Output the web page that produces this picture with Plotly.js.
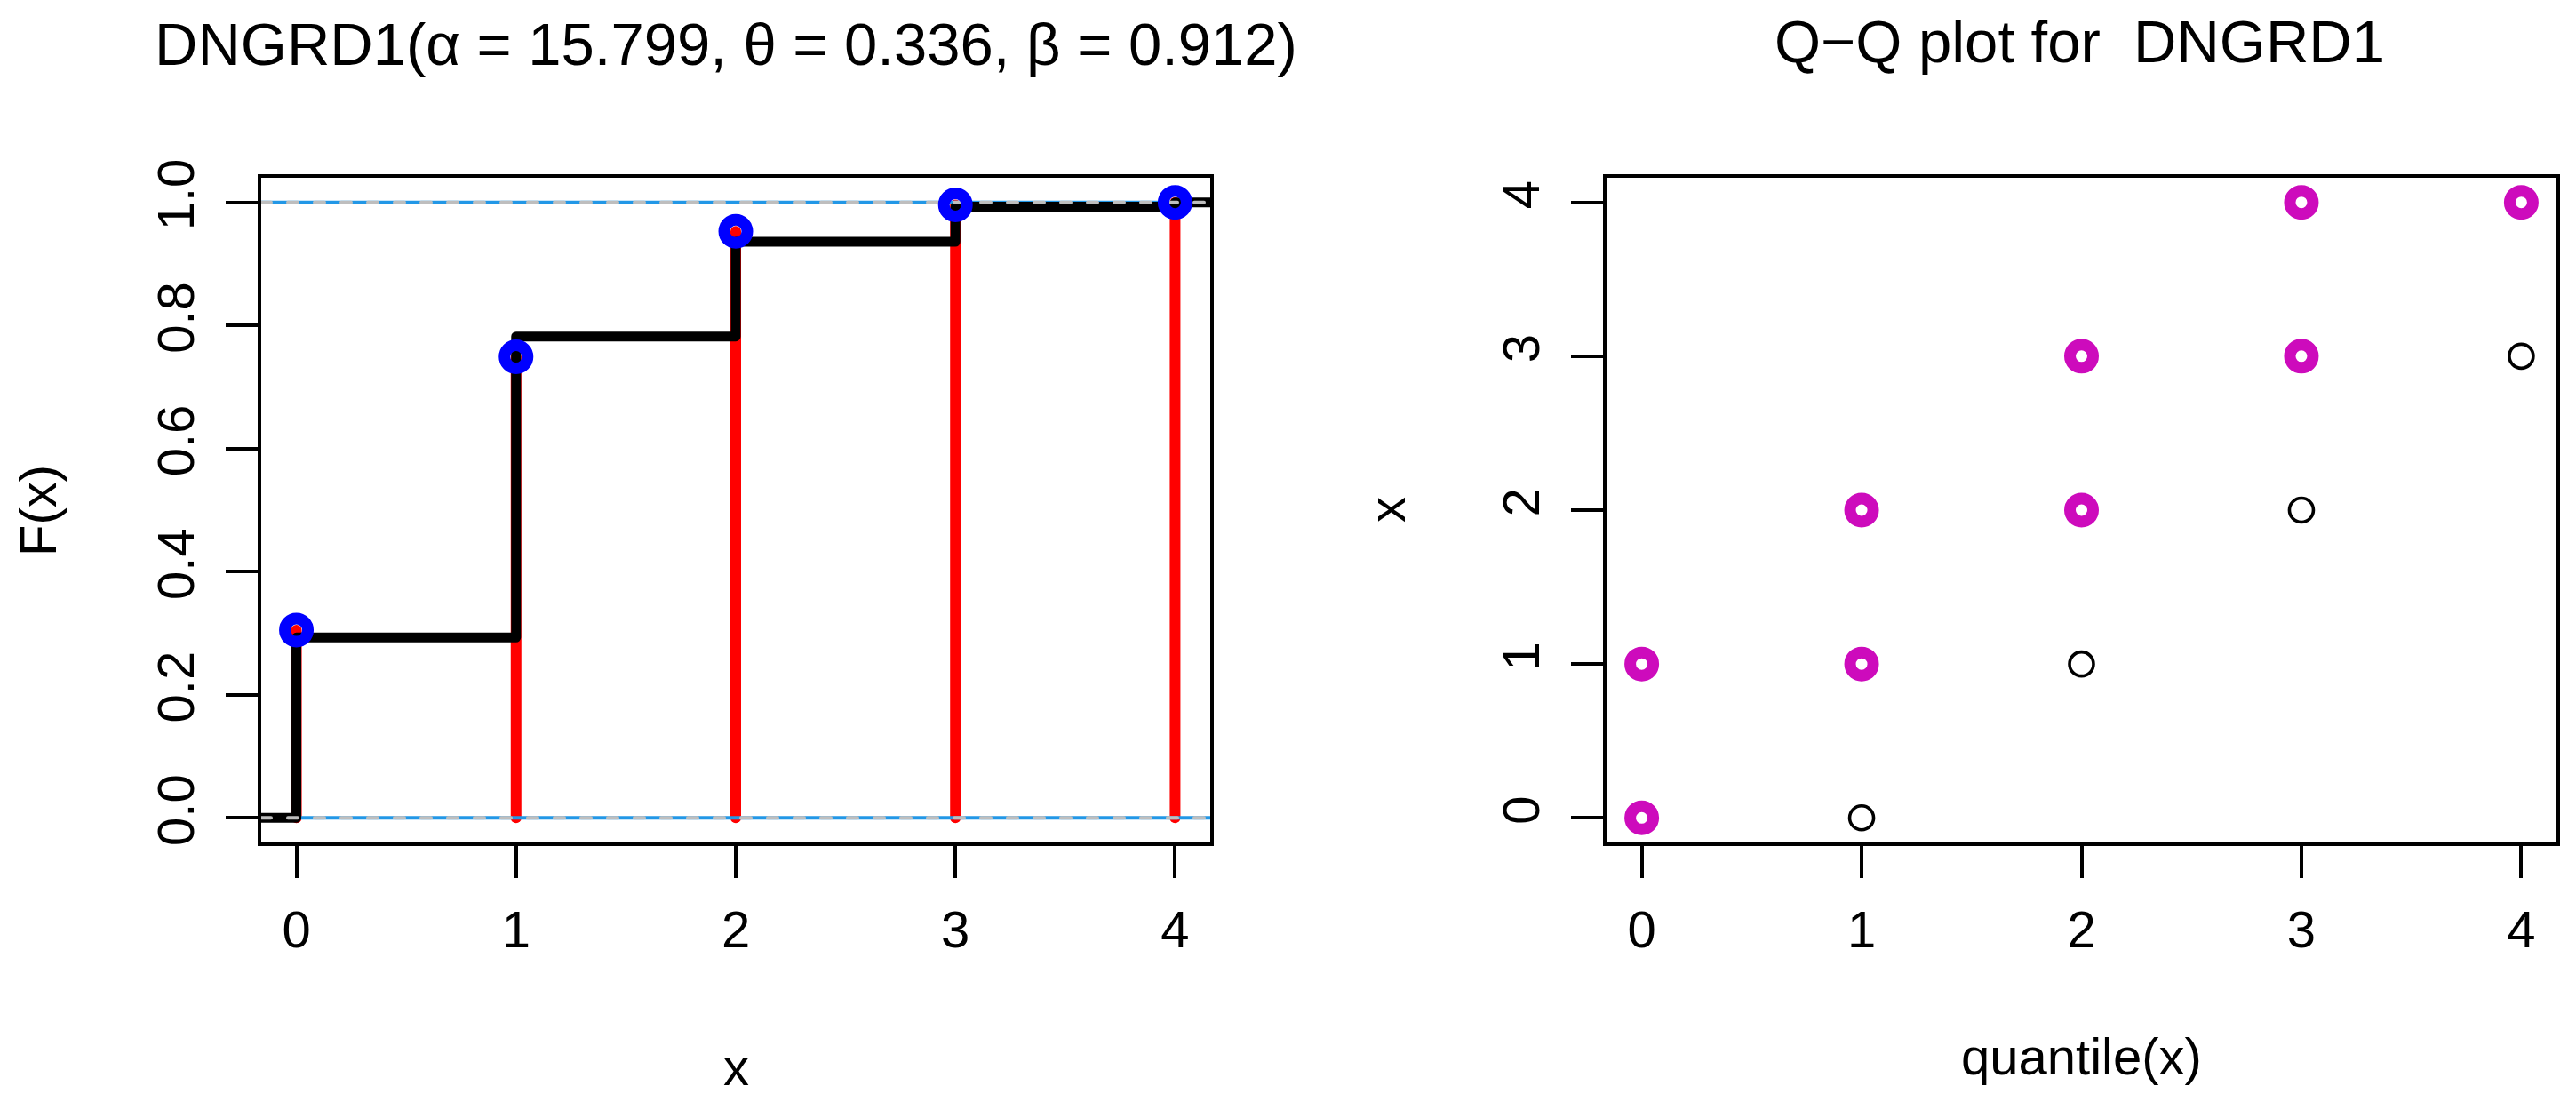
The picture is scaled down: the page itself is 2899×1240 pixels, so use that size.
<!DOCTYPE html>
<html>
<head>
<meta charset="utf-8">
<script src="https://cdn.plot.ly/plotly-3.0.1.min.js"></script>
<style>
  html, body { margin: 0; padding: 0; background: #ffffff; }
  #chart { width: 2899px; height: 1240px; }
  .js-line { stroke-linecap: round !important; stroke-linejoin: round !important; }
</style>
</head>
<body>
<div id="chart"></div>
<script>
// ---- data ----
const xSupport    = [0, 1, 2, 3, 4];
const ecdfValues  = [0.293, 0.782, 0.936, 0.993, 1.000];   // empirical CDF (black step)
const cdfValues   = [0.305, 0.749, 0.953, 0.996, 1.000];   // fitted CDF (red lines, blue circles)
const refLevels   = [0, 1];                                 // horizontal reference lines

const qqQuantileBlack = [1, 2, 3, 4];
const qqSampleBlack   = [0, 1, 2, 3];
const qqQuantileMag   = [0, 0, 1, 1, 2, 2, 3, 3, 4];
const qqSampleMag     = [0, 1, 1, 2, 2, 3, 3, 4, 4];

const xTickVals   = [0, 1, 2, 3, 4];
const yTickValsL  = [0, 0.2, 0.4, 0.6, 0.8, 1.0];
const yTickTextL  = ["0.0", "0.2", "0.4", "0.6", "0.8", "1.0"];
const yTickValsR  = [0, 1, 2, 3, 4];

const titleLeft   = "DNGRD1(α = 15.799, θ = 0.336, β = 0.912)";
const titleRight  = "Q−Q plot for  DNGRD1";
const xLabelLeft  = "x";
const yLabelLeft  = "F(x)";
const xLabelRight = "quantile(x)";
const yLabelRight = "x";

// ---- layout constants ----
const W = 2899, H = 1240;
const FONT = "Liberation Sans, Arial, Helvetica, sans-serif";
const xRangeL = [-0.16, 4.16], yRangeL = [-0.04, 1.04];
const xRangeR = [-0.16, 4.16], yRangeR = [-0.16, 4.16];
const px = v => v / W;
const py = v => 1 - v / H;

// ---- traces ----
const traces = [];

// red vertical lines 0 -> F(x)
const redX = [], redY = [];
xSupport.forEach((x, i) => { redX.push(x, x, null); redY.push(0, cdfValues[i], null); });
traces.push({ type: 'scatter', mode: 'lines', x: redX, y: redY, xaxis: 'x', yaxis: 'y',
  line: { color: '#FF0000', width: 12 }, hoverinfo: 'skip', showlegend: false });

// blue solid reference lines
refLevels.forEach(h => traces.push({ type: 'scatter', mode: 'lines',
  x: [xRangeL[0] - 1, xRangeL[1] + 1], y: [h, h], xaxis: 'x', yaxis: 'y',
  line: { color: '#2297E6', width: 4 }, hoverinfo: 'skip', showlegend: false }));

// ecdf step
const stepX = [xRangeL[0] - 1].concat(xSupport, [xRangeL[1] + 1]);
const stepY = [0].concat(ecdfValues, [ecdfValues[ecdfValues.length - 1]]);
traces.push({ type: 'scatter', mode: 'lines', x: stepX, y: stepY, xaxis: 'x', yaxis: 'y',
  line: { color: '#000000', width: 11, shape: 'hv' }, hoverinfo: 'skip', showlegend: false });

// gray dashes over the reference lines
refLevels.forEach(h => traces.push({ type: 'scatter', mode: 'lines',
  x: [xRangeL[0], xRangeL[1] + 1], y: [h, h], xaxis: 'x', yaxis: 'y',
  line: { color: '#BEBEBE', width: 4, dash: '11px,19px' }, hoverinfo: 'skip', showlegend: false }));

// blue circles at fitted CDF
traces.push({ type: 'scatter', mode: 'markers', x: xSupport, y: cdfValues, xaxis: 'x', yaxis: 'y',
  marker: { symbol: 'circle-open', size: 26, color: '#0000FF', line: { width: 13, color: '#0000FF' } },
  hoverinfo: 'skip', showlegend: false });

// Q-Q plot
traces.push({ type: 'scatter', mode: 'markers', x: qqQuantileBlack, y: qqSampleBlack, xaxis: 'x2', yaxis: 'y2',
  marker: { symbol: 'circle-open', size: 27, color: '#000000', line: { width: 3.6, color: '#000000' } },
  hoverinfo: 'skip', showlegend: false });
traces.push({ type: 'scatter', mode: 'markers', x: qqQuantileMag, y: qqSampleMag, xaxis: 'x2', yaxis: 'y2',
  marker: { symbol: 'circle-open', size: 26, color: '#CD0BBC', line: { width: 13, color: '#CD0BBC' } },
  hoverinfo: 'skip', showlegend: false });

// ---- axes ----
const axisCommon = {
  showgrid: false, zeroline: false, showline: true, mirror: true,
  linecolor: '#000000', linewidth: 4,
  ticks: 'outside', ticklen: 36, tickwidth: 4, tickcolor: '#000000',
  tickfont: { family: FONT, size: 58, color: '#000000' },
  fixedrange: true
};
const yDomain = [py(948), py(200)];

const layout = {
  width: W, height: H,
  margin: { l: 0, r: 0, t: 0, b: 0, pad: 0 },
  paper_bgcolor: '#ffffff', plot_bgcolor: '#ffffff',
  showlegend: false,
  font: { family: FONT, size: 58, color: '#000000' },
  xaxis: Object.assign({}, axisCommon, { domain: [px(294), px(1362)], range: xRangeL,
    tickmode: 'array', tickvals: xTickVals, anchor: 'y', ticklabelstandoff: 8 }),
  yaxis: Object.assign({}, axisCommon, { domain: yDomain, range: yRangeL,
    tickmode: 'array', tickvals: yTickValsL, ticktext: yTickTextL, tickangle: -90,
    anchor: 'x', ticklabelstandoff: 13 }),
  xaxis2: Object.assign({}, axisCommon, { domain: [px(1808), px(2877)], range: xRangeR,
    tickmode: 'array', tickvals: xTickVals, anchor: 'y2', ticklabelstandoff: 8 }),
  yaxis2: Object.assign({}, axisCommon, { domain: yDomain, range: yRangeR,
    tickmode: 'array', tickvals: yTickValsR, tickangle: -90,
    anchor: 'x2', ticklabelstandoff: 13 }),
  annotations: [
    { text: titleLeft, xref: 'paper', yref: 'paper', x: px(817), y: py(49),
      xanchor: 'center', yanchor: 'middle', showarrow: false, font: { family: FONT, size: 67 } },
    { text: titleRight, xref: 'paper', yref: 'paper', x: px(2340), y: py(47),
      xanchor: 'center', yanchor: 'middle', showarrow: false, font: { family: FONT, size: 67 } },
    { text: xLabelLeft, xref: 'paper', yref: 'paper', x: px(828), y: py(1200),
      xanchor: 'center', yanchor: 'middle', showarrow: false, font: { family: FONT, size: 58 } },
    { text: yLabelLeft, xref: 'paper', yref: 'paper', x: px(43), y: py(575), textangle: -90,
      xanchor: 'center', yanchor: 'middle', showarrow: false, font: { family: FONT, size: 58 } },
    { text: xLabelRight, xref: 'paper', yref: 'paper', x: px(2342), y: py(1188),
      xanchor: 'center', yanchor: 'middle', showarrow: false, font: { family: FONT, size: 58 } },
    { text: yLabelRight, xref: 'paper', yref: 'paper', x: px(1560), y: py(574), textangle: -90,
      xanchor: 'center', yanchor: 'middle', showarrow: false, font: { family: FONT, size: 58 } }
  ]
};

Plotly.newPlot('chart', traces, layout, { displayModeBar: false, staticPlot: true });
</script>
</body>
</html>
